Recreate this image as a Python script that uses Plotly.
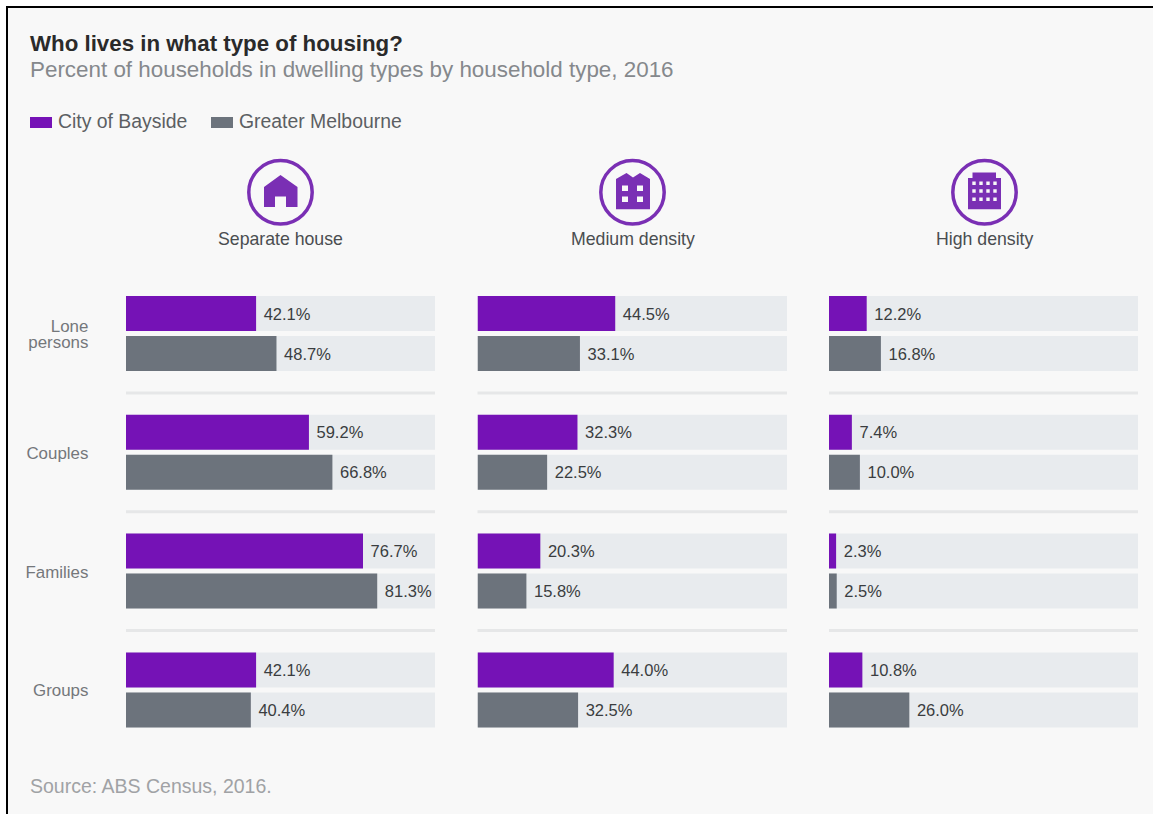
import plotly.graph_objects as go
from plotly.subplots import make_subplots

W, H = 1153, 814

title = "Who lives in what type of housing?"
subtitle = "Percent of households in dwelling types by household type, 2016"
source = "Source: ABS Census, 2016."
household_types = ["Lone persons", "Couples", "Families", "Groups"]
household_labels = ["Lone<br>persons", "Couples", "Families", "Groups"]
dwelling_types = ["Separate house", "Medium density", "High density"]
series_names = ["City of Bayside", "Greater Melbourne"]

bayside_separate = [42.1, 59.2, 76.7, 42.1]
melbourne_separate = [48.7, 66.8, 81.3, 40.4]
bayside_medium = [44.5, 32.3, 20.3, 44.0]
melbourne_medium = [33.1, 22.5, 15.8, 32.5]
bayside_high = [12.2, 7.4, 2.3, 10.8]
melbourne_high = [16.8, 10.0, 2.5, 26.0]
full_scale = [100, 100, 100, 100]

PURPLE = "#7512b6"
GREY = "#6c737c"
TRACK = "#e8ebee"
ICON = "#7a2fb4"
BG = "#f8f8f8"
RULE = "#e6e7e8"
FONT = "Liberation Sans"


def px(x):
    return x / W


def py(y):
    return 1 - y / H


def path(d):
    # d: list of subpaths, each a list of (x, y) pixels
    parts = []
    for sub in d:
        parts.append("M" + " L".join(f"{px(x):.5f},{py(y):.5f}" for x, y in sub) + " Z")
    return " ".join(parts)


def rect(x0, y0, x1, y1):
    return [(x0, y0), (x1, y0), (x1, y1), (x0, y1)]


fig = make_subplots(rows=1, cols=3, shared_yaxes=True)

cols = [
    (bayside_separate, melbourne_separate, 126, 435, 280.5),
    (bayside_medium, melbourne_medium, 477.5, 787, 632.5),
    (bayside_high, melbourne_high, 829, 1138, 984.5),
]

for i, (bay, mel, x0, x1, cx) in enumerate(cols, start=1):
    for name, vals, color, grp in [
        (series_names[0], bay, PURPLE, "a"),
        (series_names[1], mel, GREY, "b"),
    ]:
        fig.add_trace(
            go.Bar(
                y=household_types, x=full_scale, orientation="h",
                marker=dict(color=TRACK, line_width=0),
                offsetgroup=grp, showlegend=False, hoverinfo="skip",
            ),
            row=1, col=i,
        )
        fig.add_trace(
            go.Bar(
                y=household_types, x=vals, orientation="h", name=name,
                marker=dict(color=color, line_width=0),
                offsetgroup=grp, showlegend=False,
                text=[f"\u00a0{v:.1f}%" for v in vals],
                textposition="outside", cliponaxis=False, constraintext="none",
                textfont=dict(family=FONT, size=16.5, color="#3a3d40"),
            ),
            row=1, col=i,
        )
    ax = "xaxis" if i == 1 else f"xaxis{i}"
    fig.layout[ax].update(
        domain=[px(x0), px(x1)], range=[0, 100], visible=False, fixedrange=True
    )
    xref = "x" if i == 1 else f"x{i}"
    for boundary in (0.5, 1.5, 2.5):
        fig.add_shape(
            type="line", xref=f"{xref} domain", yref="y", x0=0, x1=1,
            y0=boundary, y1=boundary, line=dict(color=RULE, width=3), layer="below",
        )
    fig.add_annotation(
        text=dwelling_types[i - 1], xref="paper", yref="paper", x=px(cx), y=py(239),
        showarrow=False, xanchor="center", yanchor="middle",
        font=dict(family=FONT, size=17.7, color="#4a4d50"),
    )
    fig.add_shape(
        type="circle", xref="paper", yref="paper",
        x0=px(cx - 31.7), x1=px(cx + 31.7), y0=py(192.3 + 31.7), y1=py(192.3 - 31.7),
        line=dict(color=ICON, width=3.5), fillcolor="rgba(0,0,0,0)",
    )

fig.update_yaxes(
    domain=[py(749.3), py(274.1)], autorange=False, range=[3.5, -0.5],
    categoryorder="array", categoryarray=household_types,
    tickmode="array", tickvals=household_types,
    ticktext=[
        "<br>".join(f'<span style="font-size:16.9px">{part}</span>' for part in label.split("<br>"))
        for label in household_labels
    ],
    ticks="outside", ticklen=34, tickcolor="rgba(0,0,0,0)", showline=False,
    showgrid=False, zeroline=False, fixedrange=True, ticklabelshift=-2,
    tickfont=dict(family=FONT, size=13, color="#74777b"),
)

# dwelling icons
house = [[(264, 187), (280.5, 175), (297.5, 187), (297.5, 207), (286, 207), (286, 196.5),
          (275, 196.5), (275, 207), (264, 207)]]
medium = [[(616, 179), (626.5, 173), (633, 177.5), (640, 173), (650, 179), (650, 209.3), (616, 209.3)],
          rect(622, 185.5, 628, 191), rect(637, 185.5, 643, 191),
          rect(622, 196.5, 628, 202), rect(637, 196.5, 643, 202)]
high = [[(972.5, 178), (972.5, 172.5), (996, 172.5), (996, 178), (1001, 178), (1001, 209.3), (968, 209.3), (968, 178)]]
for wy in (183.3, 191, 199.3):
    for wx in (974, 981, 988, 995):
        high.append(rect(wx - 1.7, wy - 1.7, wx + 1.7, wy + 1.7))
for d in (house, medium, high):
    fig.add_shape(type="path", xref="paper", yref="paper", path=path(d),
                  fillcolor=ICON, line_width=0)

# frame of the screenshot
for box, color in [
    ((0, 0, W, 6), "#ffffff"),
    ((0, 0, 6, H), "#ffffff"),
    ((6, 6, W, 8), "#000000"),
    ((6, 6, 8, H), "#000000"),
]:
    fig.add_shape(type="rect", xref="paper", yref="paper", x0=px(box[0]), x1=px(box[2]),
                  y0=py(box[3]), y1=py(box[1]), fillcolor=color, line_width=0, layer="below")

# legend
for (x0, x1), name, tx, color in [
    ((30, 52), series_names[0], 56, PURPLE),
    ((211, 233), series_names[1], 237, GREY),
]:
    fig.add_shape(type="rect", xref="paper", yref="paper", x0=px(x0), x1=px(x1),
                  y0=py(128), y1=py(117), fillcolor=color, line_width=0)
    fig.add_annotation(text=name, xref="paper", yref="paper", x=px(tx), y=py(120.7),
                       showarrow=False, xanchor="left", yanchor="middle",
                       font=dict(family=FONT, size=19.4, color="#5c5f63"))

for text, y, size, color, weight in [
    (title, 43.5, 22.3, "#2a2a2a", "bold"),
    (subtitle, 70, 22.4, "#85888c", "normal"),
    (source, 786, 19.5, "#a0a2a5", "normal"),
]:
    fig.add_annotation(text=text, xref="paper", yref="paper", x=px(28), y=py(y),
                       showarrow=False, xanchor="left", yanchor="middle",
                       font=dict(family=FONT, size=size, color=color, weight=weight))

fig.update_layout(
    width=W, height=H, autosize=False, margin=dict(l=0, r=0, t=0, b=0),
    paper_bgcolor=BG, plot_bgcolor="rgba(0,0,0,0)", showlegend=False,
    barmode="group", bargap=0.3266, bargroupgap=0.125,
)

fig.write_html(
    "out.html",
    post_script="document.body.style.margin='0';document.body.style.overflow='hidden';",
    config={"displayModeBar": False},
)
